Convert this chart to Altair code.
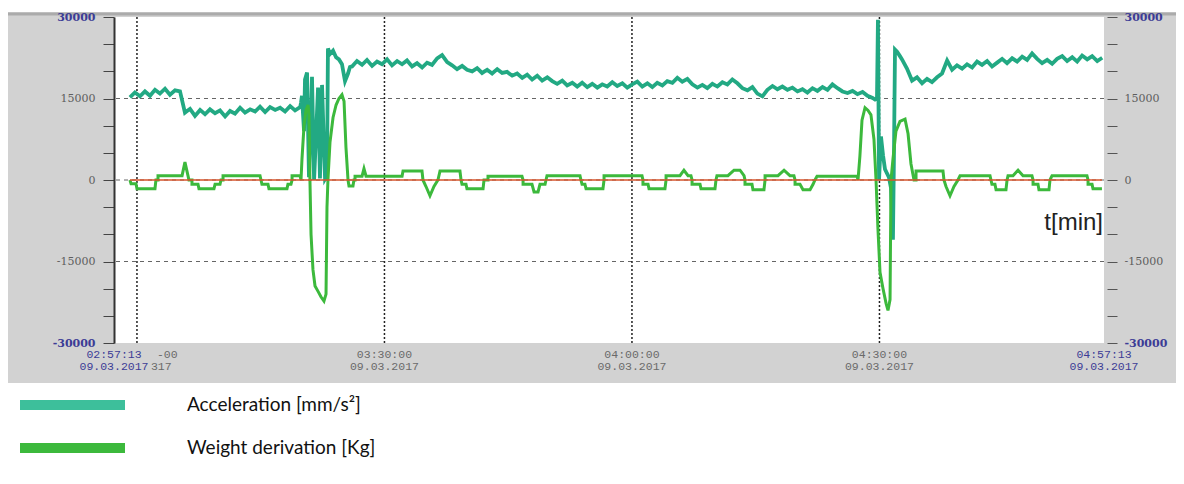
import datetime as dt
import altair as alt
import pandas as pd

# ---------------- data ----------------
BASE = dt.datetime(2017, 3, 9, 2, 57, 13)   # left end of the time axis
STEP = 36.4                                  # sampling step of the regular parts [s]
ACC = "Acceleration [mm/s²]"
WGT = "Weight derivation [Kg]"

# acceleration, regular part A (starts 116 s after 02:57:13)
acc_a_start = 116
acc_a = [15200, 16100, 15400, 16300, 15500, 16600, 15900, 16800, 15700, 16500,
         16300, 12400, 13100, 11800, 12900, 12100, 13000, 12300, 12800, 11700,
         12700, 12200, 13300, 12400, 13000, 12600, 13500, 12500, 13400, 12900,
         13300, 12600, 13600, 12800, 13400]
# acceleration around first unloading event (seconds after 02:57:13)
acc_e1_t = [1360, 1367, 1382, 1389, 1404, 1418, 1433, 1440, 1455, 1469, 1484, 1498,
            1513, 1527, 1535, 1549, 1556, 1571, 1593, 1615, 1636, 1658, 1680, 1702, 1716]
acc_e1_v = [14200, 15500, 9000, 18500, 19800, 500, 12000, 19000, 0, 8000, 17000, 300,
            17500, 6000, 200, 800, 24200, 23200, 23800, 22600, 22200, 21300, 18200, 19600, 20800]
# acceleration, regular part B
acc_b_start = 1731
acc_b = [20900, 21900, 21200, 22100, 21000, 21800, 21300, 22200, 21100, 21900,
         21300, 22000, 20900, 21500, 20700, 21600, 21200, 22400, 23000, 21700,
         21100, 20400, 21000, 20300, 20000, 20600, 19700, 20300, 19600, 20400,
         19700, 19900, 19200, 19600, 18800, 19400, 18500, 19200, 18300, 18900,
         18200, 17700, 18300, 17400, 17900, 17200, 17900, 17100, 17700, 17000,
         17600, 17200, 18000, 17300, 17800, 17000, 17600, 18100, 17200, 17800,
         17100, 17900, 17400, 18200, 17900, 18800, 18100, 18600, 17600, 17000,
         17500, 16900, 17700, 17200, 18000, 17600, 18500, 17800, 16900, 16500,
         17100, 15900, 15400, 16600, 17300, 16700, 17200, 16600, 17000, 16300,
         16700, 16100, 16900, 16400, 17100, 16600, 17600, 16900, 16300, 16000,
         16400, 15800, 16200, 15500, 15100]
# acceleration around second unloading event
acc_e2_t = [5535, 5549, 5556, 5564, 5578, 5593, 5607, 5622, 5636, 5651, 5665, 5673,
            5680, 5695, 5716]
acc_e2_v = [14800, 15000, 29500, 0, 8000, 4500, 2000, 1200, 500, -1500, -11000, 6000,
            24000, 23600, 22800]
# acceleration, regular part C
acc_c_start = 5731
acc_c = [22200, 20500, 18300, 18900, 17800, 18600, 18000, 18900, 19600, 22000,
         20300, 21100, 20500, 21300, 20700, 21800, 21200, 21900, 20900, 21600,
         22300, 21500, 22400, 21800, 22700, 22100, 23300, 22300, 21500, 22100,
         21400, 22300, 22800, 21900, 22600, 21800, 22900, 22200, 22800, 21900, 22500]

# weight derivation (seconds after 02:57:13, value)
w_t = [116, 124, 160, 167, 298, 305, 320, 320, 495, 516, 538, 545, 567, 567, 611, 618,
       727, 735, 771, 778, 793, 793, 1062, 1069, 1076, 1120, 1127, 1258, 1265, 1287,
       1295, 1295, 1353,
       1360, 1367, 1382, 1396, 1411, 1418, 1425, 1433, 1447, 1462, 1484, 1505, 1527,
       1542, 1549, 1556, 1571, 1593, 1615, 1636, 1658, 1673, 1687, 1702, 1709, 1738,
       1745, 1753, 1753, 1804, 1818, 1833, 2095, 2102, 2240, 2247, 2269, 2298, 2327,
       2356, 2371, 2516, 2524, 2531, 2560, 2567, 2684, 2691, 2720, 2720, 2967, 2975,
       2975, 3040, 3055, 3084, 3098, 3135, 3142, 3149, 3389, 3396, 3404, 3425, 3433,
       3556, 3564, 3564, 3840, 3847, 3847, 3884, 3891, 4007, 4015, 4015, 4116, 4145,
       4175, 4196, 4204, 4204, 4262, 4269, 4371, 4378, 4385, 4465, 4509, 4553, 4582,
       4589, 4589, 4640, 4647, 4727, 4735, 4735, 4829, 4873, 4916, 4945, 4953, 4953,
       4989, 5011, 5062, 5084, 5098, 5113, 5404,
       5411, 5425, 5440, 5462, 5484, 5505, 5527, 5542, 5556, 5571, 5593, 5615, 5629,
       5644, 5651, 5665, 5687, 5716, 5753, 5775, 5796, 5818, 5833, 5833, 6029, 6036,
       6051, 6080, 6109, 6138, 6153, 6371, 6378, 6385, 6407, 6415, 6487, 6495, 6502,
       6538, 6575, 6611, 6676, 6684, 6684, 6720, 6727, 6800, 6807, 6822, 7076, 7084,
       7084, 7113, 7120, 7185]
w_v = [0, -700, -700, -1600, -1600, 0, 0, 800, 800, 3300, 800, 0, 0, -800, -800, -1600,
       -1600, -800, -800, 0, 0, 800, 800, 0, -800, -800, -1600, -1600, -800, -800,
       0, 800, 800,
       0, 3800, 10000, 12800, 13800, 12000, 0, -10000, -16500, -19500, -20500, -21500, -22300,
       -21000, -5000, 0, 7000, 11500, 13800, 15000, 15700, 14500, 6000, 0, -1100, -1100,
       0, 0, 700, 700, 2100, 700, 700, 1650, 1650, 0, -1200, -2900, -1200,
       0, 1650, 1650, 0, -800, -800, -1600, -1600, 0, 0, 700, 700, 0,
       -800, -800, -2200, -2200, -800, -800, 0, 800, 800, 0, -800, -800, -1600,
       -1600, 0, 800, 800, 0, -800, -800, -1600, -1600, 0, 800, 800, 1800,
       800, 800, 0, -800, -800, -1600, -1600, 0, 800, 800, 1800, 1800, 800,
       0, -800, -800, -1800, -1800, 0, 800, 800, 1800, 800, 800, 0, -800,
       -800, -1800, -1800, -800, 0, 700, 700,
       0, 4500, 11000, 13300, 12800, 12000, 7500, 0, -9000, -17000, -20000, -22700, -24000,
       -22000, 0, 3800, 9000, 10800, 11200, 8500, 3000, 0, 0, 1650, 1650, 0,
       -1200, -2900, -1200, 0, 800, 800, 0, -800, -800, -1800, -1800, 0, 800,
       800, 1800, 800, 800, 0, -800, -800, -1800, -1800, 0, 800, 800, 0,
       -800, -800, -1600, -1600]

# zero reference line extent
zero_t = [116, 7185]

# grid and ticks
hgrid_vals = [15000, 0, -15000]
vgrid_times = [(3, 0, 0), (3, 30, 0), (4, 0, 0), (4, 30, 0)]
xtick_times = [(2, 57, 13), (3, 0, 0), (3, 15, 0), (3, 30, 0), (3, 45, 0),
               (4, 0, 0), (4, 15, 0), (4, 30, 0), (4, 45, 0), (4, 57, 13)]
xlab_times = [(2, 57, 13), (3, 30, 0), (4, 0, 0), (4, 30, 0), (4, 57, 13)]
xlab_line1 = ["02:57:13", "03:30:00", "04:00:00", "04:30:00", "04:57:13"]
xlab_line2 = ["09.03.2017", "09.03.2017", "09.03.2017", "09.03.2017", "09.03.2017"]
xlab_color = ["#3c3c96", "#6a6a6a", "#6a6a6a", "#6a6a6a", "#3c3c96"]
frag_time = (3, 0, 0)
frag_line1 = "-00"
frag_line2 = "317"
y_ticks = list(range(-30000, 30001, 5000))

# ---------------- helpers ----------------
def iso_s(sec):
    return (BASE + dt.timedelta(seconds=int(round(sec)))).strftime("%Y-%m-%dT%H:%M:%S")

def iso_hms(h, m, s):
    return dt.datetime(2017, 3, 9, h, m, s).strftime("%Y-%m-%dT%H:%M:%S")

def dtobj(h, m, s):
    return alt.DateTime(year=2017, month=3, date=9, hours=h, minutes=m, seconds=s)

acc_rows = []
for i, v in enumerate(acc_a):
    acc_rows.append((acc_a_start + i * STEP, v))
acc_rows += list(zip(acc_e1_t, acc_e1_v))
for i, v in enumerate(acc_b):
    acc_rows.append((acc_b_start + i * STEP, v))
acc_rows += list(zip(acc_e2_t, acc_e2_v))
for i, v in enumerate(acc_c):
    acc_rows.append((acc_c_start + i * STEP, v))
acc_df = pd.DataFrame([{"t": iso_s(s), "v": v, "series": ACC, "o": k}
                       for k, (s, v) in enumerate(acc_rows)])
w_df = pd.DataFrame([{"t": iso_s(s), "v": v, "series": WGT, "o": k}
                     for k, (s, v) in enumerate(zip(w_t, w_v))])
zero_df = pd.DataFrame([{"t0": iso_s(zero_t[0]), "t1": iso_s(zero_t[1]), "v": 0}])
hgrid_df = pd.DataFrame({"v": hgrid_vals})
vgrid_df = pd.DataFrame({"t": [iso_hms(*x) for x in vgrid_times]})
xlab_df = pd.DataFrame({"t": [iso_hms(*x) for x in xlab_times], "l1": xlab_line1,
                        "l2": xlab_line2, "c": xlab_color})
frag_df = pd.DataFrame({"t": [iso_hms(*frag_time)], "l1": [frag_line1], "l2": [frag_line2]})
one = pd.DataFrame({"a": [0]})

W, H = 990, 326
XDOM = [dtobj(2, 57, 13), dtobj(4, 57, 13)]
xs = alt.Scale(domain=XDOM)
ys = alt.Scale(domain=[-30000, 30000], nice=False, zero=False)

TEAL = "#22a983"
GREEN = "#3cb93c"
LABC = {"condition": {"test": "abs(datum.value) == 30000", "value": "#3c3c96"}, "value": "#5e5e5e"}
LABW = {"condition": {"test": "abs(datum.value) == 30000", "value": "bold"}, "value": "normal"}

# ---------------- layers ----------------
frame = alt.Chart(one).mark_rect(color="#d2d2d2").encode(
    x=alt.value(-106), x2=alt.value(1070), y=alt.value(-5), y2=alt.value(366))
plotbg = alt.Chart(one).mark_rect(color="white").encode(
    x=alt.value(0), x2=alt.value(W), y=alt.value(0), y2=alt.value(H))
topline = alt.Chart(one).mark_rule(color="#ababab", strokeWidth=3).encode(
    x=alt.value(-106), x2=alt.value(1070), y=alt.value(-3))

hgrid = alt.Chart(hgrid_df).mark_rule(color="#666", strokeWidth=1, strokeDash=[4, 4]).encode(
    y=alt.Y("v:Q", scale=ys, axis=None))
vgrid = alt.Chart(vgrid_df).mark_rule(color="#222", strokeWidth=1.5, strokeDash=[2, 2]).encode(
    x=alt.X("t:T", scale=xs, axis=None))

color_scale = alt.Scale(domain=[ACC, WGT], range=["#3dbf9b", GREEN])
legend = alt.Legend(orient="none", legendX=-99, legendY=378, title=None,
                    symbolType="stroke", symbolSize=11025, symbolStrokeWidth=10,
                    labelFont="Lato", labelFontSize=19, labelColor="#111",
                    labelOffset=57, clipHeight=20, rowPadding=23, padding=0,
                    labelLimit=500, direction="vertical")

acc_line = alt.Chart(acc_df).mark_line(strokeWidth=3.8, color=TEAL, strokeJoin="miter").encode(
    x=alt.X("t:T", scale=xs, title=None,
            axis=alt.Axis(values=[dtobj(*x) for x in xtick_times], labels=False,
                          tickSize=8, tickColor="#333", tickWidth=1.2, domain=False,
                          grid=False, zindex=1)),
    y=alt.Y("v:Q", scale=ys, title=None,
            axis=alt.Axis(orient="left", values=y_ticks, grid=False, zindex=1,
                          labelExpr="datum.value % 15000 == 0 ? datum.value : ''",
                          labelFont="DejaVu Serif", labelFontSize=11, labelPadding=8,
                          labelColor=LABC, labelFontWeight=LABW,
                          tickSize=11, tickColor="#444", domainColor="#333", domainWidth=2)),
    order="o:Q",
)

w_line = alt.Chart(w_df).mark_line(strokeWidth=3, color=GREEN).encode(
    x=alt.X("t:T", scale=xs, axis=None),
    y=alt.Y("v:Q", scale=ys, title=None,
            axis=alt.Axis(orient="right", values=y_ticks, grid=False, zindex=1, offset=3,
                          labelExpr="datum.value % 15000 == 0 ? datum.value : ''",
                          labelFont="DejaVu Serif", labelFontSize=11, labelPadding=7,
                          labelColor=LABC, labelFontWeight=LABW,
                          tickSize=10, tickColor="#555", domain=False)),
    order="o:Q",
)

# legend carrier sharing the colour scale
legend_layer = alt.Chart(pd.concat([acc_df.head(1), w_df.head(1)])).mark_line(opacity=0).encode(
    x=alt.X("t:T", scale=xs, axis=None),
    y=alt.Y("v:Q", scale=ys, axis=None),
    color=alt.Color("series:N", scale=color_scale, legend=legend),
)

zero = alt.Chart(zero_df).mark_rule(color="#d6532b", strokeWidth=1.6).encode(
    x=alt.X("t0:T", scale=xs, axis=None), x2="t1:T",
    y=alt.Y("v:Q", scale=ys, axis=None))

TXT = dict(font="Liberation Mono", fontSize=11.5, baseline="middle")
lab1 = alt.Chart(xlab_df).mark_text(**TXT).encode(
    x=alt.X("t:T", scale=xs, axis=None), y=alt.value(338), text="l1:N",
    color=alt.Color("c:N", scale=None))
lab2 = alt.Chart(xlab_df).mark_text(**TXT).encode(
    x=alt.X("t:T", scale=xs, axis=None), y=alt.value(350), text="l2:N",
    color=alt.Color("c:N", scale=None))
frag1 = alt.Chart(frag_df).mark_text(align="left", dx=20, color="#6a6a6a", **TXT).encode(
    x=alt.X("t:T", scale=xs, axis=None), y=alt.value(338), text="l1:N")
frag2 = alt.Chart(frag_df).mark_text(align="left", dx=14, color="#6a6a6a", **TXT).encode(
    x=alt.X("t:T", scale=xs, axis=None), y=alt.value(350), text="l2:N")

tlabel = alt.Chart(one).mark_text(text="t[min]", font="Liberation Sans", fontSize=24,
                                  align="right", baseline="alphabetic", color="#222").encode(
    x=alt.value(989), y=alt.value(213))

chart = alt.layer(
    frame, plotbg, topline, hgrid, vgrid, acc_line, w_line, legend_layer, zero,
    lab1, lab2, frag1, frag2, tlabel
).resolve_scale(y="shared", x="shared").resolve_axis(y="independent").properties(
    width=W, height=H,
    autosize=alt.AutoSizeParams(type="none"),
    padding={"left": 106, "top": 9, "right": 72, "bottom": 133},
).configure_view(stroke=None).configure(background="white")

chart.save("out.html", embed_options={"renderer": "svg", "actions": False})
